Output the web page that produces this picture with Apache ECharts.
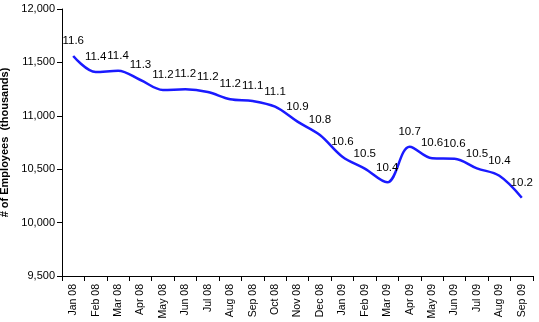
<!DOCTYPE html>
<html>
<head>
<meta charset="utf-8">
<script src="https://cdn.jsdelivr.net/npm/echarts@6/dist/echarts.min.js"></script>
<style>
html,body{margin:0;padding:0;background:#fff;}
#chart{width:539px;height:322px;}
</style>
</head>
<body>
<div id="chart"></div>
<script>
var categories = ["Jan 08","Feb 08","Mar 08","Apr 08","May 08","Jun 08","Jul 08","Aug 08","Sep 08","Oct 08","Nov 08","Dec 08","Jan 09","Feb 09","Mar 09","Apr 09","May 09","Jun 09","Jul 09","Aug 09","Sep 09"];
var employees = [11560,11410,11422,11335,11242,11248,11223,11155,11139,11085,10945,10820,10617,10505,10377,10711,10602,10598,10508,10439,10233];
var yTicks = {min: 9500, max: 12000, interval: 500};
var yAxisTitle = "# of Employees  (thousands)";

var chart = echarts.init(document.getElementById('chart'), null, {renderer: 'canvas'});
chart.setOption({
  animation: false,
  backgroundColor: '#ffffff',
  grid: {left: 62, right: 6, top: 9, bottom: 46, containLabel: false, outerBoundsMode: 'none'},
  xAxis: {
    type: 'category',
    data: categories,
    boundaryGap: true,
    axisLine: {lineStyle: {color: '#000', width: 1}},
    axisTick: {show: true, alignWithLabel: false, length: 5, lineStyle: {color: '#000'}},
    axisLabel: {rotate: 90, fontSize: 10.5, color: '#000', fontFamily: 'Liberation Sans, Arial', margin: 8, interval: 0}
  },
  yAxis: {
    type: 'value',
    min: yTicks.min, max: yTicks.max, interval: yTicks.interval,
    name: yAxisTitle,
    nameLocation: 'middle',
    nameRotate: 90,
    nameGap: 50,
    nameTextStyle: {fontSize: 11, fontWeight: 'bold', color: '#000', fontFamily: 'Liberation Sans, Arial'},
    axisLine: {show: true, lineStyle: {color: '#000', width: 1}},
    axisTick: {show: true, length: 5, lineStyle: {color: '#000'}},
    splitLine: {show: false},
    axisLabel: {fontSize: 11, color: '#000', fontFamily: 'Liberation Sans, Arial', margin: 7,
      formatter: function(v){ return v.toLocaleString('en-US'); }}
  },
  series: [{
    type: 'line',
    data: employees,
    smooth: 0.35,
    symbol: 'circle',
    symbolSize: 0,
    showSymbol: true,
    lineStyle: {color: '#1a1aff', width: 2.5},
    itemStyle: {color: '#1a1aff'},
    label: {
      show: true,
      position: 'top',
      distance: 9,
      fontSize: 11.5,
      color: '#000',
      fontFamily: 'Liberation Sans, Arial',
      formatter: function(p){ return (p.value/1000).toFixed(1); }
    }
  }]
});
</script>
</body>
</html>
